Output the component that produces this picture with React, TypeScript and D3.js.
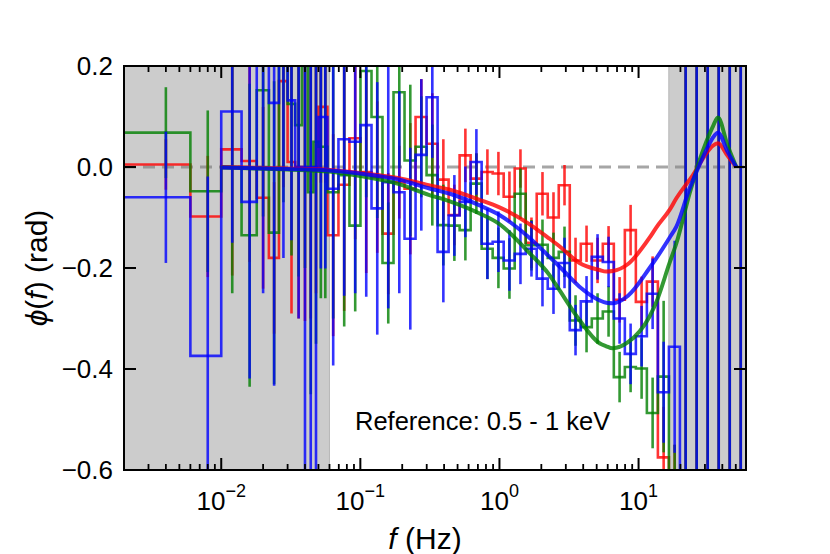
import React from 'react';
import * as d3 from 'd3';

// bin edges in Hz (linear 0.004 Hz bins, then ~1.2x log bins)
const binEdges = [
  0.002, 0.006, 0.010, 0.014, 0.018, 0.022, 0.026, 0.030, 0.034, 0.038, 0.042, 0.046, 0.050, 0.054, 0.058,
  0.0696, 0.0835, 0.1002, 0.1203, 0.1443, 0.1732, 0.2078, 0.2494, 0.2993, 0.3591, 0.4310, 0.5172, 0.6206,
  0.7447, 0.8937, 1.0724, 1.2869, 1.5443, 1.8531, 2.2238, 2.6685, 3.2022, 3.8427, 4.6112, 5.5335, 6.6402,
  7.9682, 9.5618, 11.474, 13.769, 16.523, 19.827, 23.793, 28.551, 34.261, 41.114, 49.336, 59.2,
];

const redPhase = [
  0.005, -0.098, 0.035, 0.012, -0.061, -0.18, 0.17, 0.01, 0.0, -0.005, 0.0, 0.0, 0.119, 0.119,
  -0.135, -0.035, 0.057, -0.01, -0.02, -0.132, -0.03, -0.043, 0.099, 0.046,
  -0.025, -0.095, 0.023, -0.023, -0.01, -0.013, -0.059, -0.003, -0.15, -0.053,
  -0.1, -0.036, -0.185, -0.152, -0.185, -0.152, -0.263, -0.125, -0.267, -0.227, -0.575,
  -0.8, -0.9, -0.9, -0.9, -0.9, -0.9, -0.9,
];
const redErr = [
  0.05, 0.12, 0.25, 0.2, 0.18, 0.15, 0.21, 0.3, 0.3, 0.3, 0.3, 0.25, 0.15, 0.15,
  0.2, 0.25, 0.2, 0.2, 0.15, 0.12, 0.072, 0.13, 0.075, 0.1,
  0.08, 0.06, 0.053, 0.05, 0.045, 0.043, 0.05, 0.038, 0.05, 0.043,
  0.05, 0.04, 0.045, 0.036, 0.045, 0.035, 0.045, 0.05, 0.05, 0.05, 0.1,
  0.25, 2, 2, 2, 2, 2, 2,
];

const greenPhase = [
  0.068, -0.048, 0.0, -0.135, 0.152, -0.13, 0.23, 0.125, 0.083, 0.2, -0.05, 0.05, 0.04, 0.04,
  -0.05, -0.016, -0.116, 0.19, 0.099, -0.19, 0.148, 0.013, 0.04, -0.016,
  -0.115, -0.116, -0.125, -0.033, -0.162, -0.18, -0.201, -0.053, -0.155, -0.154,
  -0.18, -0.168, -0.304, -0.317, -0.3, -0.286, -0.416, -0.396, -0.399, -0.487, -0.415,
  -0.8, -0.9, -0.9, -0.9, -0.9, -0.9, -0.9,
];
const greenErr = [
  0.09, 0.16, 0.25, 0.3, 0.25, 0.3, 0.3, 0.3, 0.3, 0.4, 0.4, 0.4, 0.3, 0.3,
  0.25, 0.3, 0.17, 0.25, 0.2, 0.12, 0.15, 0.15, 0.1, 0.1,
  0.08, 0.07, 0.06, 0.06, 0.06, 0.06, 0.06, 0.05, 0.05, 0.05,
  0.05, 0.05, 0.05, 0.05, 0.05, 0.05, 0.05, 0.05, 0.06, 0.07, 0.15,
  0.25, 2, 2, 2, 2, 2, 2,
];

const bluePhase = [
  -0.06, -0.374, 0.11, -0.069, 0.25, 0.127, 0.22, 0.132, 0.0, 0.0, 0.0, 0.0, 0.099, 0.099,
  -0.043, 0.055, 0.05, 0.083, -0.082, -0.03, -0.05, -0.142, 0.024, 0.138,
  -0.168, -0.096, -0.069, 0.01, -0.152, -0.148, -0.185, -0.172, -0.162, -0.221,
  -0.241, -0.19, -0.323, -0.266, -0.178, -0.188, -0.3, -0.37, -0.335, -0.251, -0.446,
  -0.356, -0.9, -0.9, -0.9, -0.9, -0.9, -0.9,
];
const blueErr = [
  0.13, 0.355, 0.26, 0.35, 0.5, 0.56, 0.4, 0.277, 0.3, 1.5, 1.5, 1.5, 0.3, 0.3,
  0.35, 0.31, 0.3, 0.34, 0.25, 0.25, 0.2, 0.18, 0.15, 0.12,
  0.1, 0.08, 0.07, 0.065, 0.07, 0.06, 0.06, 0.06, 0.055, 0.055,
  0.05, 0.05, 0.05, 0.05, 0.045, 0.05, 0.05, 0.06, 0.06, 0.07, 0.1,
  0.21, 2, 2, 2, 2, 2, 2,
];

// model curves
const modelFreq = [
  0.01, 0.03, 0.06, 0.1, 0.19, 0.31, 0.44, 0.72, 1.0, 1.64, 2.29, 2.7, 3.76, 5.24, 5.86, 6.5,
  8.4, 12.0, 13.4, 16.7, 18.7, 23.3, 24.6, 27.5, 30.7, 34.2, 37.2, 43.7, 50.4,
];
const redModel = [
  0.0, -0.003, -0.006, -0.012, -0.022, -0.036, -0.045, -0.065, -0.08, -0.113, -0.142, -0.157, -0.19, -0.204, -0.207, -0.206,
  -0.192, -0.14, -0.12, -0.085, -0.062, -0.025, -0.016, 0.006, 0.027, 0.042, 0.047, 0.022, 0.0,
];
const greenModel = [
  -0.001, -0.005, -0.009, -0.018, -0.034, -0.055, -0.068, -0.092, -0.113, -0.17, -0.214, -0.244, -0.303, -0.349, -0.355, -0.359,
  -0.347, -0.296, -0.268, -0.19, -0.151, -0.052, -0.03, 0.014, 0.05, 0.08, 0.098, 0.042, 0.0,
];
const blueModel = [
  -0.001, -0.004, -0.007, -0.013, -0.025, -0.042, -0.053, -0.076, -0.095, -0.14, -0.178, -0.197, -0.237, -0.264, -0.269, -0.27,
  -0.255, -0.2, -0.181, -0.14, -0.118, -0.042, -0.026, 0.005, 0.034, 0.058, 0.068, 0.03, 0.0,
];

const shadedRanges = [[0.002, 0.06], [16.5, 59.2]];
const yTicks = [0.2, 0.0, -0.2, -0.4, -0.6];
const yTickLabels = ['0.2', '0.0', '\u22120.2', '\u22120.4', '\u22120.6'];
const xMajor = [0.01, 0.1, 1, 10];
const xMajorExp = ['\u22122', '\u22121', '0', '1'];

const W = 830, H = 554;
const L = 124, R = 746, T = 66, B = 470;
const font = '"Liberation Sans", Arial, Helvetica, sans-serif';

export default function App() {
  const x = d3.scaleLog().domain([binEdges[0], binEdges[binEdges.length - 1]]).range([L, R]);
  const y = d3.scaleLinear().domain([-0.6, 0.2]).range([B, T]);

  const stepLine = d3.line<[number, number]>()
    .x(d => x(d[0]))
    .y(d => y(d[1]))
    .curve(d3.curveStepAfter);
  const modelLine = d3.line<[number, number]>()
    .x(d => x(d[0]))
    .y(d => y(d[1]))
    .curve(d3.curveMonotoneX);

  const series = [
    { color: '#ff0000', vals: redPhase, errs: redErr, model: redModel },
    { color: '#008000', vals: greenPhase, errs: greenErr, model: greenModel },
    { color: '#0000ff', vals: bluePhase, errs: blueErr, model: blueModel },
  ];

  const minor: number[] = [];
  for (let e = -3; e <= 1; e++) {
    for (let m = 2; m <= 9; m++) {
      const v = m * Math.pow(10, e);
      if (v > binEdges[0] && v < binEdges[binEdges.length - 1]) minor.push(v);
    }
  }

  const stepPts = (vals: number[]) => {
    const pts: [number, number][] = vals.map((v, i) => [binEdges[i], v]);
    pts.push([binEdges[vals.length], vals[vals.length - 1]]);
    return pts;
  };

  return (
    <svg width={W} height={H} style={{ position: 'absolute', left: 0, top: 0, background: '#fff' }}
      fontFamily={font}>
      <defs>
        <clipPath id="plot">
          <rect x={L} y={T} width={R - L} height={B - T} />
        </clipPath>
      </defs>

      <g clipPath="url(#plot)">
        {shadedRanges.map(([a, b], i) => (
          <rect key={i} x={x(a)} y={T} width={x(b) - x(a)} height={B - T}
            fill="#cccccc" stroke="#b8b8b8" strokeWidth={1} />
        ))}
        <line x1={L} x2={R} y1={y(0)} y2={y(0)} stroke="#808080" strokeOpacity={0.7}
          strokeWidth={3} strokeDasharray="12,7" />

        {series.map((s, si) => (
          <g key={si}>
            <path d={stepLine(stepPts(s.vals)) || ''} fill="none" stroke={s.color}
              strokeOpacity={0.8} strokeWidth={2.6} />
            {s.vals.map((v, i) => {
              const c = (binEdges[i] + binEdges[i + 1]) / 2;
              return (
                <line key={i} x1={x(c)} x2={x(c)} y1={y(v - s.errs[i])} y2={y(v + s.errs[i])}
                  stroke={s.color} strokeOpacity={0.8} strokeWidth={2.6} />
              );
            })}
          </g>
        ))}

        {series.map((s, si) => (
          <path key={si}
            d={modelLine(modelFreq.map((f, i) => [f, s.model[i]] as [number, number])) || ''}
            fill="none" stroke={s.color} strokeOpacity={0.8} strokeWidth={4} />
        ))}
      </g>

      {/* frame */}
      <rect x={L} y={T} width={R - L} height={B - T} fill="none" stroke="#000" strokeWidth={2} />

      {/* y ticks */}
      {yTicks.map((t, i) => (
        <g key={i}>
          <line x1={L} x2={L + 12} y1={y(t)} y2={y(t)} stroke="#000" strokeWidth={2} />
          <line x1={R} x2={R - 12} y1={y(t)} y2={y(t)} stroke="#000" strokeWidth={2} />
          <text x={L - 11} y={y(t)} dy="0.36em" textAnchor="end" fontSize={26}>{yTickLabels[i]}</text>
        </g>
      ))}

      {/* x ticks */}
      {minor.map((v, i) => (
        <g key={i}>
          <line x1={x(v)} x2={x(v)} y1={B} y2={B - 6} stroke="#000" strokeWidth={1.8} />
          <line x1={x(v)} x2={x(v)} y1={T} y2={T + 6} stroke="#000" strokeWidth={1.8} />
        </g>
      ))}
      {xMajor.map((v, i) => (
        <g key={i}>
          <line x1={x(v)} x2={x(v)} y1={B} y2={B - 12} stroke="#000" strokeWidth={2} />
          <line x1={x(v)} x2={x(v)} y1={T} y2={T + 12} stroke="#000" strokeWidth={2} />
          <text x={x(v)} y={510} textAnchor="middle" fontSize={26}>
            <tspan>10</tspan>
            <tspan dy={-13} fontSize={18}>{xMajorExp[i]}</tspan>
          </text>
        </g>
      ))}

      {/* annotation */}
      <text x={355} y={430} fontSize={25.5}>Reference: 0.5 - 1 keV</text>

      {/* axis labels */}
      <text x={425} y={549} textAnchor="middle" fontSize={30}>
        <tspan fontStyle="italic">f</tspan> (Hz)
      </text>
      <text transform={`translate(47, ${(T + B) / 2}) rotate(-90)`} textAnchor="middle" fontSize={30}>
        <tspan fontStyle="italic">{'\u03D5'}</tspan>(<tspan fontStyle="italic">f</tspan>) (rad)
      </text>
    </svg>
  );
}
